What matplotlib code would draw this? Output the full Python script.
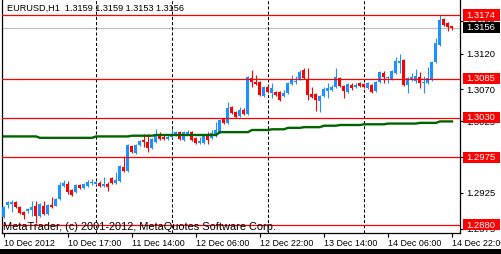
import matplotlib
matplotlib.use("Agg")
import matplotlib.pyplot as plt
import matplotlib.transforms as mtransforms
from matplotlib.patches import Rectangle
import numpy as np

# ---------------- data (EURUSD H1) ----------------
opens = [1.2891, 1.2908, 1.2909, 1.2912, 1.2905, 1.2898, 1.2900, 1.2901, 1.2907, 1.2893,
         1.2907, 1.2895, 1.2908, 1.2907, 1.2916, 1.2935, 1.2937, 1.2929, 1.2926, 1.2936,
         1.2932, 1.2935, 1.2939, 1.2937, 1.2939, 1.2935, 1.2937, 1.2946, 1.2939, 1.2942,
         1.2961, 1.2956, 1.2991, 1.2981, 1.2992, 1.2999, 1.2996, 1.2988, 1.2996, 1.3006,
         1.3003, 1.3000, 1.3003, 1.3006, 1.3010, 1.2999, 1.3007, 1.3010, 1.3002, 1.2995,
         1.2995, 1.3007, 1.3002, 1.3007, 1.3010, 1.3028, 1.3023, 1.3045, 1.3038, 1.3033,
         1.3041, 1.3035, 1.3086, 1.3080, 1.3080, 1.3061, 1.3073, 1.3065, 1.3066, 1.3066,
         1.3061, 1.3065, 1.3077, 1.3080, 1.3084, 1.3097, 1.3084, 1.3063, 1.3063, 1.3054,
         1.3061, 1.3068, 1.3069, 1.3073, 1.3086, 1.3075, 1.3066, 1.3076, 1.3073, 1.3079,
         1.3077, 1.3072, 1.3076, 1.3068, 1.3080, 1.3093, 1.3086, 1.3084, 1.3093, 1.3107,
         1.3111, 1.3076, 1.3083, 1.3082, 1.3087, 1.3079, 1.3079, 1.3083, 1.3108, 1.3132,
         1.3168, 1.3163, 1.3159]
highs = [1.2907, 1.2914, 1.2915, 1.2914, 1.2907, 1.2900, 1.2904, 1.2914, 1.2914, 1.2911,
         1.2914, 1.2909, 1.2919, 1.2918, 1.2940, 1.2943, 1.2942, 1.2930, 1.2937, 1.2937,
         1.2939, 1.2943, 1.2944, 1.2942, 1.2942, 1.2947, 1.2940, 1.2947, 1.2954, 1.2964,
         1.2975, 1.2993, 1.2992, 1.2993, 1.2999, 1.3007, 1.3007, 1.3002, 1.3014, 1.3010,
         1.3006, 1.3006, 1.3014, 1.3012, 1.3012, 1.3012, 1.3013, 1.3012, 1.3003, 1.3003,
         1.3006, 1.3010, 1.3013, 1.3024, 1.3028, 1.3030, 1.3052, 1.3047, 1.3040, 1.3045,
         1.3044, 1.3089, 1.3097, 1.3090, 1.3082, 1.3075, 1.3076, 1.3079, 1.3068, 1.3068,
         1.3069, 1.3080, 1.3090, 1.3089, 1.3097, 1.3100, 1.3100, 1.3073, 1.3065, 1.3062,
         1.3073, 1.3079, 1.3076, 1.3100, 1.3087, 1.3076, 1.3079, 1.3079, 1.3079, 1.3080,
         1.3079, 1.3080, 1.3077, 1.3082, 1.3096, 1.3096, 1.3089, 1.3097, 1.3115, 1.3119,
         1.3112, 1.3087, 1.3093, 1.3098, 1.3094, 1.3089, 1.3101, 1.3110, 1.3142, 1.3174,
         1.3170, 1.3164, 1.3159]
lows = [1.2890, 1.2904, 1.2898, 1.2904, 1.2895, 1.2888, 1.2897, 1.2893, 1.2883, 1.2891,
        1.2894, 1.2894, 1.2904, 1.2907, 1.2915, 1.2933, 1.2923, 1.2921, 1.2925, 1.2930,
        1.2930, 1.2933, 1.2936, 1.2936, 1.2933, 1.2933, 1.2928, 1.2937, 1.2937, 1.2940,
        1.2954, 1.2954, 1.2981, 1.2979, 1.2991, 1.2989, 1.2982, 1.2986, 1.2995, 1.2999,
        1.2999, 1.2999, 1.3002, 1.3005, 1.2999, 1.2998, 1.3006, 1.2998, 1.2993, 1.2993,
        1.2993, 1.2993, 1.3000, 1.3003, 1.3009, 1.3021, 1.3021, 1.3035, 1.3030, 1.3031,
        1.3034, 1.3034, 1.3073, 1.3076, 1.3061, 1.3059, 1.3065, 1.3058, 1.3061, 1.3054,
        1.3059, 1.3063, 1.3076, 1.3077, 1.3083, 1.3084, 1.3055, 1.3058, 1.3040, 1.3038,
        1.3059, 1.3058, 1.3068, 1.3072, 1.3073, 1.3058, 1.3065, 1.3069, 1.3072, 1.3073,
        1.3072, 1.3070, 1.3065, 1.3066, 1.3079, 1.3079, 1.3079, 1.3083, 1.3091, 1.3093,
        1.3075, 1.3065, 1.3082, 1.3079, 1.3072, 1.3065, 1.3077, 1.3082, 1.3107, 1.3131,
        1.3159, 1.3152, 1.3153]
closes = [1.2905, 1.2912, 1.2912, 1.2905, 1.2897, 1.2894, 1.2902, 1.2905, 1.2893, 1.2909,
          1.2895, 1.2908, 1.2905, 1.2916, 1.2936, 1.2939, 1.2926, 1.2922, 1.2936, 1.2932,
          1.2937, 1.2940, 1.2940, 1.2940, 1.2935, 1.2937, 1.2933, 1.2939, 1.2943, 1.2963,
          1.2956, 1.2992, 1.2982, 1.2992, 1.2998, 1.2996, 1.2988, 1.3000, 1.3007, 1.3000,
          1.3000, 1.3003, 1.3007, 1.3010, 1.3000, 1.3010, 1.3010, 1.2999, 1.2995, 1.2998,
          1.3005, 1.2999, 1.3009, 1.3013, 1.3027, 1.3023, 1.3044, 1.3037, 1.3031, 1.3041,
          1.3035, 1.3087, 1.3080, 1.3077, 1.3062, 1.3073, 1.3066, 1.3072, 1.3062, 1.3055,
          1.3065, 1.3079, 1.3084, 1.3082, 1.3094, 1.3086, 1.3062, 1.3059, 1.3055, 1.3061,
          1.3070, 1.3072, 1.3073, 1.3087, 1.3075, 1.3068, 1.3077, 1.3072, 1.3076, 1.3075,
          1.3073, 1.3079, 1.3066, 1.3080, 1.3094, 1.3087, 1.3087, 1.3096, 1.3110, 1.3110,
          1.3076, 1.3086, 1.3087, 1.3089, 1.3079, 1.3080, 1.3086, 1.3108, 1.3135, 1.3167,
          1.3160, 1.3157, 1.3156]
ma_values = ([1.3004] * 9 + [1.3002] * 14 + [1.3004] * 9 + [1.3005] * 6 + [1.3006] * 16 +
             [1.3010] * 8 + [1.3013] * 5 + [1.3014] * 4 + [1.3016] * 4 + [1.3017] * 5 +
             [1.3019] * 4 + [1.3020] * 6 + [1.3021] * 6 + [1.3022] * 8 + [1.3023] * 5 +
             [1.3025] * 4)

levels = [1.3174, 1.3085, 1.3030, 1.2975, 1.2880]
bid_price = 1.3156
day_start_bars = [23, 42, 66, 90]
xtick_bars = [0, 16, 32, 48, 64, 80, 96, 112]
xtick_labels = ["10 Dec 2012", "10 Dec 17:00", "11 Dec 14:00", "12 Dec 06:00",
                "12 Dec 22:00", "13 Dec 14:00", "14 Dec 06:00", "14 Dec 22:00"]
ytick_values = [1.2875, 1.2925, 1.2975, 1.3025, 1.3070, 1.3120, 1.3165]
header_text = "EURUSD,H1  1.3159 1.3159 1.3153 1.3156"
copyright_text = "MetaTrader, (c) 2001-2012, MetaQuotes Software Corp."

# ---------------- figure ----------------
plt.rcParams['font.family'] = ['Liberation Sans', 'DejaVu Sans']
W, H = 502, 254
L, R, T, B = 2.5, 460.0, 0.0, 233.0
fig = plt.figure(figsize=(W / 100, H / 100), dpi=100, facecolor='white')
ax = fig.add_axes([L / W, 1 - B / H, (R - L) / W, (B - T) / H])
ax.set_facecolor('white')

O = np.array(opens); Hh = np.array(highs); Lo = np.array(lows); C = np.array(closes)
n = len(O)
idx = np.arange(n)
colors = np.where(C >= O, '#1E90FF', '#FF0000')

ax.set_xlim(-0.375, 114.0)
ax.set_ylim(1.28688, 1.3195)
px = (1.3195 - 1.28688) / (B - T)

ax.axhline(bid_price, color='#C0C0C0', lw=0.9, zorder=1)
for d in day_start_bars:
    ax.axvline(d, color='black', lw=0.75, linestyle=(0, (3, 2)), zorder=1.5)

ax.vlines(idx, Lo, Hh, colors=colors, lw=0.8, zorder=2)
body_h = np.maximum(np.abs(C - O), px)
ax.bar(idx, body_h, bottom=np.minimum(O, C), width=0.75, color=colors, linewidth=0, zorder=3)

for lv in levels:
    ax.axhline(lv, color='#FF0000', lw=0.9, zorder=4)

ax.plot(idx, ma_values, color='#006400', lw=1.7, zorder=5)

for s in ['left', 'bottom', 'right']:
    ax.spines[s].set_color('black')
    ax.spines[s].set_linewidth(0.9)
ax.spines['top'].set_visible(False)

ax.yaxis.tick_right()
ax.set_yticks(ytick_values)
ax.set_yticklabels([f"{v:.4f}" for v in ytick_values])
ax.tick_params(axis='y', direction='out', length=2.5, width=0.8, pad=2, labelsize=6.8, colors='black')
ax.set_xticks(xtick_bars)
ax.set_xticklabels(xtick_labels)
ax.tick_params(axis='x', direction='out', length=3, width=0.8, pad=1.5, labelsize=6.4, colors='black')
for lbl in ax.get_xticklabels():
    lbl.set_horizontalalignment('left')

trans = mtransforms.blended_transform_factory(ax.transAxes, ax.transData)
bx0 = (463 - L) / (R - L)
bw = 37.5 / (R - L)
tx = (466 - L) / (R - L)
for lv in levels:
    ax.add_patch(Rectangle((bx0, lv - 5.5 * px), bw, 11 * px, transform=trans,
                           facecolor='#FF0000', edgecolor='none', clip_on=False, zorder=6))
    ax.text(tx, lv, f"{lv:.4f}", transform=trans, color='white', fontsize=6.8,
            va='center', ha='left', clip_on=False, zorder=7)
ax.add_patch(Rectangle((bx0, bid_price - 5.5 * px), bw, 11 * px, transform=trans,
                       facecolor='black', edgecolor='none', clip_on=False, zorder=6))
ax.text(tx, bid_price, f"{bid_price:.4f}", transform=trans, color='white', fontsize=6.8,
        va='center', ha='left', clip_on=False, zorder=7)

ax.text((7 - L) / (R - L), 1 - 3.5 / (B - T), header_text, transform=ax.transAxes,
        fontsize=6.6, va='top', ha='left', color='black', zorder=8)
ax.text((3.5 - L) / (R - L), 0.5 / (B - T), copyright_text, transform=ax.transAxes,
        fontsize=7.9, va='bottom', ha='left', color='black', zorder=8)

fig.patches.append(Rectangle((0, 0), 1, 5 / H, transform=fig.transFigure,
                             facecolor='black', edgecolor='none'))

fig.savefig("out.png", dpi=100, facecolor='white')
